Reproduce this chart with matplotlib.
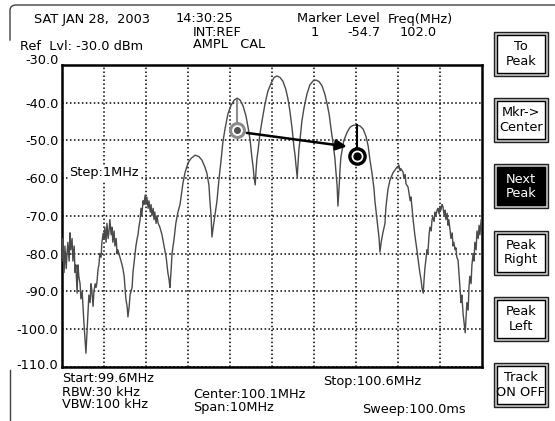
import matplotlib
matplotlib.use("Agg")
import matplotlib.pyplot as plt
import matplotlib.transforms as mtransforms
from matplotlib.patches import Rectangle

# ---- datos de la traza (frecuencia MHz, nivel dBm) ----
ruido_izq = [(95.10, -82), (95.12, -76), (95.15, -85), (95.17, -78), (95.20, -84), (95.22, -80),
             (95.24, -77), (95.27, -82), (95.29, -74.5), (95.31, -79), (95.34, -76), (95.36, -82),
             (95.39, -78), (95.41, -85), (95.43, -83), (95.46, -90.5), (95.48, -83), (95.50, -86),
             (95.53, -88), (95.55, -92), (95.58, -90), (95.60, -94), (95.62, -98), (95.65, -103),
             (95.67, -106.4), (95.70, -100), (95.72, -95.8), (95.74, -91), (95.77, -93), (95.79, -88),
             (95.81, -89.7), (95.84, -94), (95.86, -90), (95.89, -88), (95.91, -89), (95.93, -87.8),
             (95.96, -84), (95.98, -83), (96.00, -80), (96.03, -81), (96.05, -77), (96.08, -74.6),
             (96.10, -76), (96.12, -73), (96.15, -77), (96.17, -72), (96.20, -76), (96.22, -74),
             (96.24, -71), (96.27, -75), (96.29, -73), (96.31, -77), (96.34, -74), (96.36, -78),
             (96.39, -76), (96.41, -80), (96.43, -79), (96.48, -81), (96.53, -83), (96.55, -84),
             (96.58, -86), (96.60, -89), (96.62, -92), (96.65, -94), (96.67, -96.8), (96.70, -94),
             (96.72, -91), (96.77, -88.9), (96.79, -85), (96.81, -83), (96.84, -80), (96.86, -78),
             (96.89, -76), (96.91, -75), (96.93, -73), (96.96, -71), (96.98, -68), (97.00, -70),
             (97.03, -66), (97.05, -67), (97.08, -64.5), (97.10, -67), (97.12, -65), (97.15, -68),
             (97.17, -66), (97.20, -69), (97.22, -67), (97.24, -70), (97.27, -68), (97.29, -71),
             (97.31, -69), (97.34, -72), (97.36, -70), (97.39, -72), (97.43, -73), (97.48, -75),
             (97.53, -78), (97.58, -81), (97.62, -85), (97.65, -87), (97.67, -89)]

lobulo_a = [(97.70, -84), (97.72, -80), (97.77, -76), (97.81, -72), (97.86, -69), (97.91, -67),
            (97.98, -61.3), (98.03, -58.5), (98.10, -56), (98.17, -54.8), (98.27, -53.9),
            (98.36, -54.3), (98.43, -55.2), (98.50, -57), (98.55, -58.7), (98.60, -62),
            (98.62, -65.8), (98.65, -70), (98.67, -75.6)]

lobulo_b = [(98.70, -73), (98.74, -70), (98.79, -66), (98.84, -60), (98.89, -55), (98.93, -50.5),
            (98.98, -47), (99.05, -43), (99.12, -40.8), (99.20, -39.3), (99.27, -38.8),
            (99.34, -39.3), (99.41, -40.8), (99.48, -43.5), (99.53, -46.5), (99.58, -50),
            (99.62, -54.4), (99.65, -57), (99.67, -59.5), (99.70, -61.8)]

lobulo_c = [(99.72, -58), (99.74, -55), (99.77, -52.5), (99.81, -48.5), (99.86, -45), (99.93, -40.5),
            (100.00, -37), (100.08, -34.8), (100.15, -33.3), (100.22, -32.9), (100.29, -33.3),
            (100.36, -34.3), (100.43, -36.5), (100.48, -39), (100.53, -42.5), (100.58, -47),
            (100.62, -51.5), (100.65, -54), (100.67, -56.5), (100.70, -59.7)]

lobulo_d = [(100.72, -56), (100.74, -52.5), (100.77, -49.5), (100.81, -45), (100.86, -41.5),
            (100.93, -37.8), (101.00, -35.3), (101.08, -34.2), (101.15, -34), (101.22, -34.4),
            (101.29, -35.5), (101.36, -37.8), (101.41, -40.2), (101.46, -43), (101.50, -46.5),
            (101.55, -50.5), (101.60, -55), (101.62, -58), (101.65, -62), (101.67, -67.4)]

lobulo_e = [(101.70, -62), (101.72, -57.5), (101.74, -54.5), (101.77, -52.5), (101.81, -50),
            (101.89, -47.8), (101.96, -46.5), (102.03, -46), (102.12, -45.9), (102.20, -46.2),
            (102.27, -47), (102.34, -49), (102.39, -51.5), (102.43, -55), (102.48, -58.6),
            (102.53, -63), (102.55, -66), (102.60, -71), (102.65, -76), (102.67, -79.6)]

lobulo_f = [(102.70, -77), (102.74, -74.5), (102.79, -72), (102.81, -68), (102.86, -63),
            (102.91, -60.5), (102.98, -58.6), (103.03, -57.8), (103.08, -57.0), (103.10, -57.3),
            (103.12, -56.5), (103.15, -58), (103.17, -57.5), (103.22, -58.4), (103.24, -60),
            (103.27, -59), (103.29, -61.5), (103.34, -62.4), (103.39, -66), (103.41, -65),
            (103.46, -71), (103.50, -75), (103.55, -79), (103.58, -81.7), (103.62, -85),
            (103.65, -87), (103.67, -89), (103.70, -90.5)]

ruido_der = [(103.72, -87), (103.74, -84), (103.79, -79), (103.81, -80), (103.84, -75), (103.86, -73),
             (103.89, -74), (103.91, -71), (103.93, -70.3), (103.96, -71.5), (103.98, -69),
             (104.00, -70), (104.03, -68.5), (104.05, -68), (104.08, -69.5), (104.10, -67.5),
             (104.12, -68.5), (104.15, -67), (104.17, -67.6), (104.20, -70), (104.22, -68.5),
             (104.24, -71), (104.27, -69.3), (104.29, -72.5), (104.31, -71), (104.34, -73.8),
             (104.36, -76), (104.39, -74.5), (104.41, -78), (104.43, -77), (104.46, -79),
             (104.48, -78.5), (104.50, -81), (104.53, -81.7), (104.55, -85), (104.58, -89.7),
             (104.60, -93), (104.62, -91), (104.65, -96), (104.67, -98), (104.70, -101),
             (104.72, -97), (104.74, -93), (104.77, -95), (104.79, -89), (104.81, -86),
             (104.84, -88), (104.86, -83), (104.89, -80), (104.91, -82), (104.93, -77),
             (104.96, -79), (104.98, -74), (105.01, -76), (105.03, -72.5), (105.05, -75),
             (105.08, -71), (105.10, -73)]

# marcadores: frecuencia, nivel del circulo, nivel del pico
marcador_freq = [99.27, 102.12]
marcador_nivel = [-47.2, -54.0]
marcador_pico = [-39.3, -45.9]

niveles_y = [-110, -100, -90, -80, -70, -60, -50, -40, -30]
lineas_x = [96.1, 97.1, 98.1, 99.1, 100.1, 101.1, 102.1, 103.1, 104.1]

botones = ["To\nPeak", "Mkr->\nCenter", "Next\nPeak", "Peak\nRight", "Peak\nLeft", "Track\nON OFF"]
boton_activo = 2

FS = 9.3

fig = plt.figure(figsize=(5.55, 4.21), dpi=100)

# capa de decoracion en pixeles (y hacia abajo)
deco = fig.add_axes([0, 0, 1, 1], zorder=0)
deco.set_xlim(0, 555)
deco.set_ylim(421, 0)
deco.axis("off")

# marco exterior con esquina redondeada
deco.plot([555, 15, 12.5, 10.8, 10, 10], [5, 5, 5.7, 7.2, 9.5, 40], color="#404040", lw=1)
deco.plot([10, 10], [370, 421], color="#404040", lw=1)

# textos de cabecera
fila1, fila2, fila3 = 19, 32, 45
deco.text(34, fila1, "SAT JAN 28,  2003", fontsize=FS, va="center")
deco.text(176, fila1, "14:30:25", fontsize=FS, va="center")
deco.text(193, fila2, "INT:REF", fontsize=FS, va="center")
deco.text(193, fila3, "AMPL   CAL", fontsize=FS, va="center")
deco.text(20, fila3 + 1, "Ref  Lvl: -30.0 dBm", fontsize=FS, va="center")
deco.text(297, fila1, "Marker Level", fontsize=FS, va="center")
deco.text(388, fila1, "Freq(MHz)", fontsize=FS, va="center")
deco.text(311, fila2, "1", fontsize=FS, va="center")
deco.text(347, fila2, "-54.7", fontsize=FS, va="center")
deco.text(400, fila2, "102.0", fontsize=FS, va="center")

# textos inferiores
deco.text(62, 378, "Start:99.6MHz", fontsize=FS, va="center")
deco.text(62, 392, "RBW:30 kHz", fontsize=FS, va="center")
deco.text(62, 405, "VBW:100 kHz", fontsize=FS, va="center")
deco.text(193, 394, "Center:100.1MHz", fontsize=FS, va="center")
deco.text(193, 408, "Span:10MHz", fontsize=FS, va="center")
deco.text(323, 381, "Stop:100.6MHz", fontsize=FS, va="center")
deco.text(362, 410, "Sweep:100.0ms", fontsize=FS, va="center")

# botones de la derecha
for i, etiqueta in enumerate(botones):
    y0 = 32 + i * 66.2
    deco.add_patch(Rectangle((494, y0), 54, 44, facecolor="#c8c8c8", edgecolor="#202020", lw=1))
    activo = i == boton_activo
    deco.add_patch(Rectangle((497, y0 + 3), 48, 38, facecolor="black" if activo else "white",
                             edgecolor="black", lw=1))
    deco.text(521, y0 + 22, etiqueta, fontsize=FS, ha="center", va="center",
              color="white" if activo else "black", linespacing=1.15)

# ---- grafico principal ----
ax = fig.add_axes([62 / 555, (421 - 366.7) / 421, 420 / 555, 301.7 / 421], zorder=1)
ax.set_facecolor("white")
ax.set_xlim(95.1, 105.1)
ax.set_ylim(-110, -30)
ax.set_xticks(lineas_x)
ax.set_xticklabels([])
ax.set_yticks(niveles_y)
ax.set_yticklabels([f"{v:.1f}" for v in niveles_y])
ax.tick_params(axis="both", length=0, pad=2.5, labelsize=FS)
ax.grid(True, color="black", linestyle=(0, (1, 1.6)), linewidth=1.1)
for s in ax.spines.values():
    s.set_linewidth(1.8)
    s.set_color("black")

# la etiqueta superior va un poco por encima del borde
etiquetas = ax.get_yticklabels()
etiquetas[-1].set_transform(etiquetas[-1].get_transform() +
                            mtransforms.ScaledTranslation(0, 4 / 72, fig.dpi_scale_trans))
etiquetas[0].set_transform(etiquetas[0].get_transform() +
                           mtransforms.ScaledTranslation(0, 2 / 72, fig.dpi_scale_trans))

segmentos = [ruido_izq, lobulo_a, lobulo_b, lobulo_c, lobulo_d, lobulo_e, lobulo_f, ruido_der]
frec = [p[0] for seg in segmentos for p in seg]
nivel = [p[1] for seg in segmentos for p in seg]
ax.plot(frec, nivel, color="#4a4a4a", lw=1.0, zorder=3)

ax.text(95.27, -58.6, "Step:1MHz", fontsize=FS, va="center",
        bbox=dict(facecolor="white", edgecolor="none", pad=1), zorder=4)

# marcador 1 (gris) y marcador 2 (negro)
ax.plot([marcador_freq[0]] * 2, [marcador_pico[0], marcador_nivel[0]], color="#8c8c8c", lw=1.5, zorder=5)
ax.plot(marcador_freq[0], marcador_nivel[0], "o", ms=10, mfc="white", mec="#8c8c8c", mew=2.2, zorder=6)
ax.plot(marcador_freq[0], marcador_nivel[0], "o", ms=4, color="#505050", zorder=7)

ax.plot([marcador_freq[1]] * 2, [marcador_pico[1], marcador_nivel[1]], color="black", lw=1.5, zorder=5)
ax.plot(marcador_freq[1], marcador_nivel[1], "o", ms=11, mfc="white", mec="black", mew=2.4, zorder=6)
ax.plot(marcador_freq[1], marcador_nivel[1], "o", ms=5, color="black", zorder=7)

ax.annotate("", xy=(101.88, -51.6), xytext=(99.5, -48.0),
            arrowprops=dict(arrowstyle="-|>", color="black", lw=1.8, mutation_scale=16,
                            shrinkA=0, shrinkB=0), zorder=8)

plt.savefig("out.png", dpi=100)
